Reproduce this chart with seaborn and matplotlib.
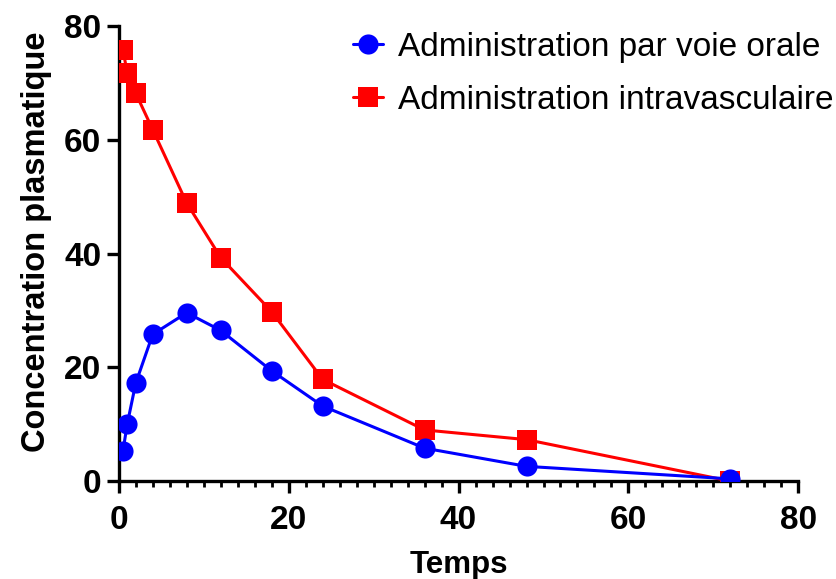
import pandas as pd
import matplotlib.pyplot as plt
import seaborn as sns

# data
temps = [0.5, 1, 2, 4, 8, 12, 18, 24, 36, 48, 72]
orale = [5.3, 10.0, 17.2, 25.8, 29.6, 26.5, 19.4, 13.2, 5.8, 2.6, 0.4]
intravasc = [75.8, 71.8, 68.2, 61.8, 48.9, 39.3, 29.8, 17.9, 9.0, 7.3, 0.0]

label_orale = 'Administration par voie orale'
label_iv = 'Administration intravasculaire'

df = pd.DataFrame({'Temps': temps, 'orale': orale, 'iv': intravasc})

sns.set_style('ticks')
plt.rcParams['font.family'] = ['Liberation Sans', 'DejaVu Sans']
plt.rcParams['text.color'] = 'black'
plt.rcParams['axes.labelcolor'] = 'black'

fig = plt.figure(figsize=(8.36, 5.79), dpi=100)
ax = fig.add_axes([0.142, 0.169, 0.813, 0.786])

sns.lineplot(x='Temps', y='orale', data=df, ax=ax, color='#0000ff', marker='o',
             markersize=14.5, markeredgewidth=0, linewidth=2.2, label=label_orale, zorder=4)
sns.lineplot(x='Temps', y='iv', data=df, ax=ax, color='#ff0000', marker='s',
             markersize=14.5, markeredgewidth=0, linewidth=2.2, label=label_iv, zorder=3)

ax.set_xlim(0, 80)
ax.set_ylim(0, 80)
ax.set_xticks([0, 20, 40, 60, 80])
ax.set_xticks(range(0, 81, 2), minor=True)
ax.set_yticks([0, 20, 40, 60, 80])

for s in ['top', 'right']:
    ax.spines[s].set_visible(False)
for s in ['left', 'bottom']:
    ax.spines[s].set_linewidth(2.4)
    ax.spines[s].set_color('black')

ax.tick_params(axis='both', which='major', length=8.5, width=2.4, labelsize=24,
               colors='black', pad=4)
ax.tick_params(axis='x', which='major', pad=9)
ax.tick_params(axis='x', which='minor', length=4, width=2.0, colors='black')
for lab in ax.get_xticklabels() + ax.get_yticklabels():
    lab.set_fontweight('bold')

ax.set_xlabel('Temps', fontsize=22.5, fontweight='bold', labelpad=10)
ax.set_ylabel('Concentration plasmatique', fontsize=23.5, fontweight='bold')
ax.yaxis.set_label_coords(-0.098, 0.525)

ax.legend(loc='upper right', frameon=False, fontsize=24, handlelength=0.9,
          handletextpad=0.45, borderaxespad=0.0, borderpad=0.0, labelspacing=0.65,
          bbox_to_anchor=(833 / 836, 1 - 32 / 579), bbox_transform=fig.transFigure)

fig.savefig('out.png', dpi=100)
